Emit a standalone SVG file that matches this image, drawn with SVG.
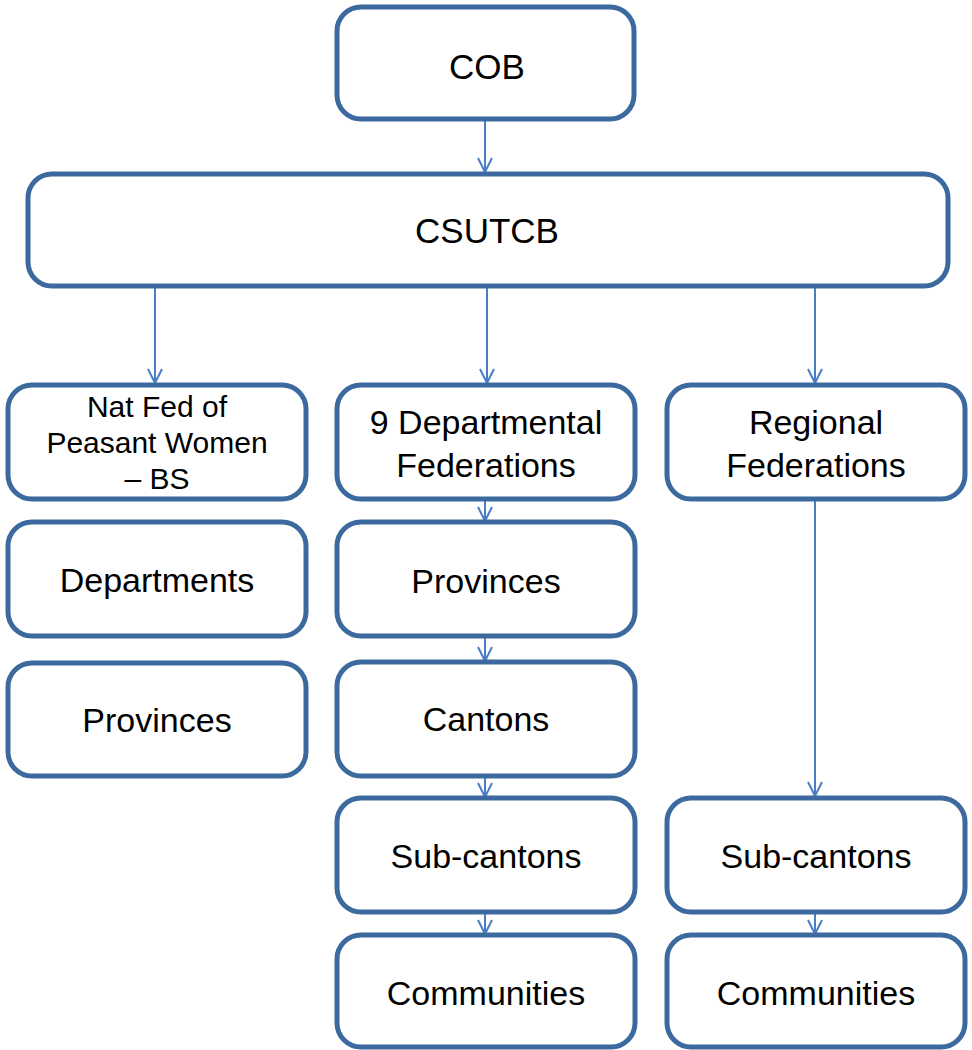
<svg xmlns="http://www.w3.org/2000/svg" width="972" height="1050" viewBox="0 0 972 1050">
<style>
.box{fill:#fff;stroke:#3D6A9E;stroke-width:5}
.t{font-family:"Liberation Sans",Arial,sans-serif;font-size:34px;fill:#000;text-anchor:middle}
.s{font-size:30px}
.b{font-size:35px}
.c{stroke:#4A7EC4;stroke-width:2;fill:none}
</style>
<defs>
<marker id="ah" markerWidth="16" markerHeight="16" refX="15" refY="8" orient="auto" markerUnits="userSpaceOnUse" viewBox="0 0 16 16">
<path d="M1 1 L15 8 L1 15" fill="none" stroke="#4A7EC4" stroke-width="2"/>
</marker>
</defs>
<rect width="972" height="1050" fill="#fff"/>
<g id="connectors">
<line class="c" x1="485" y1="119" x2="485" y2="172" marker-end="url(#ah)"/>
<line class="c" x1="155" y1="287" x2="155" y2="383" marker-end="url(#ah)"/>
<line class="c" x1="487" y1="287" x2="487" y2="383" marker-end="url(#ah)"/>
<line class="c" x1="815" y1="287" x2="815" y2="383" marker-end="url(#ah)"/>
<line class="c" x1="485" y1="499" x2="485" y2="521" marker-end="url(#ah)"/>
<line class="c" x1="485" y1="637" x2="485" y2="661" marker-end="url(#ah)"/>
<line class="c" x1="485" y1="776" x2="485" y2="797" marker-end="url(#ah)"/>
<line class="c" x1="485" y1="912" x2="485" y2="934" marker-end="url(#ah)"/>
<line class="c" x1="815" y1="499" x2="815" y2="796" marker-end="url(#ah)"/>
<line class="c" x1="815" y1="912" x2="815" y2="934" marker-end="url(#ah)"/>
</g>
<g id="cob"><rect class="box" x="337" y="7" width="297" height="112" rx="24"/><text class="t b" x="487" y="79">COB</text></g>
<g id="csutcb"><rect class="box" x="28" y="174" width="920" height="112" rx="24"/><text class="t b" x="487" y="243">CSUTCB</text></g>
<g id="natfed"><rect class="box" x="8" y="385" width="298" height="114" rx="24"/><text class="t s" x="157" y="417">Nat Fed of</text><text class="t s" x="157" y="453">Peasant Women</text><text class="t s" x="157" y="489">– BS</text></g>
<g id="departments"><rect class="box" x="8" y="522" width="298" height="114" rx="24"/><text class="t" x="157" y="592">Departments</text></g>
<g id="provinces-left"><rect class="box" x="8" y="663" width="298" height="113" rx="24"/><text class="t" x="157" y="732">Provinces</text></g>
<g id="depfed"><rect class="box" x="337" y="385" width="298" height="114" rx="24"/><text class="t" x="486" y="434">9 Departmental</text><text class="t" x="486" y="477">Federations</text></g>
<g id="provinces-mid"><rect class="box" x="337" y="522" width="298" height="114" rx="24"/><text class="t" x="486" y="593">Provinces</text></g>
<g id="cantons"><rect class="box" x="337" y="662" width="298" height="114" rx="24"/><text class="t" x="486" y="731">Cantons</text></g>
<g id="subcantons-mid"><rect class="box" x="337" y="798" width="298" height="114" rx="24"/><text class="t" x="486" y="868">Sub-cantons</text></g>
<g id="communities-mid"><rect class="box" x="337" y="935" width="298" height="112" rx="24"/><text class="t" x="486" y="1005">Communities</text></g>
<g id="regfed"><rect class="box" x="667" y="385" width="298" height="114" rx="24"/><text class="t" x="816" y="434">Regional</text><text class="t" x="816" y="477">Federations</text></g>
<g id="subcantons-right"><rect class="box" x="667" y="798" width="298" height="114" rx="24"/><text class="t" x="816" y="868">Sub-cantons</text></g>
<g id="communities-right"><rect class="box" x="667" y="935" width="298" height="112" rx="24"/><text class="t" x="816" y="1005">Communities</text></g>
</svg>
